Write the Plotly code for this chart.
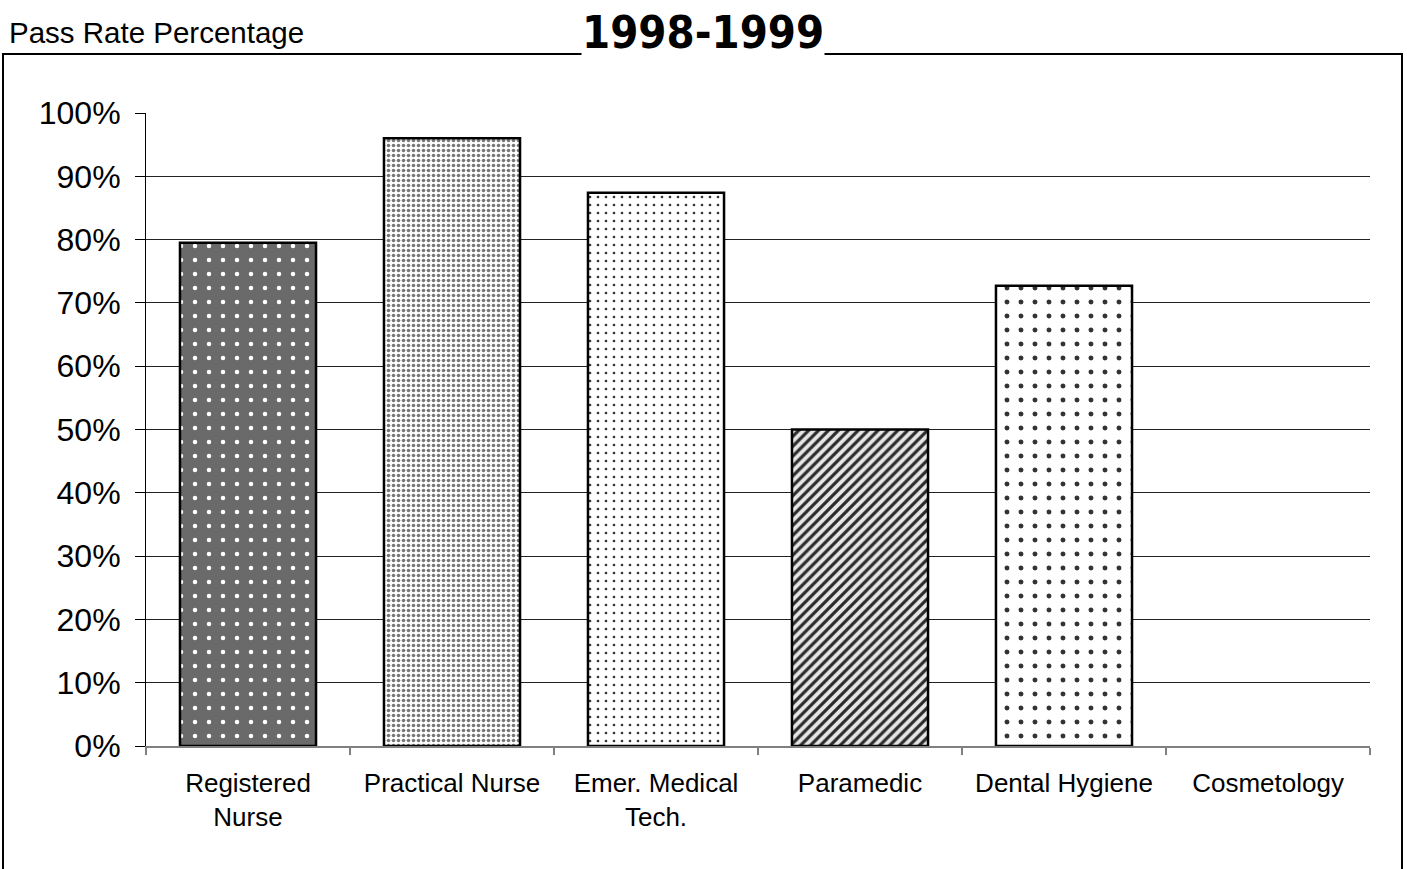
import plotly.graph_objects as go

# Licensure exam pass rates by program, 1998-1999
programs = ["Registered<br>Nurse", "Practical Nurse", "Emer. Medical<br>Tech.",
            "Paramedic", "Dental Hygiene", "Cosmetology"]
pass_rates = [79.5, 96.0, 87.4, 50.0, 72.7, None]

y_ticks = list(range(0, 101, 10))
y_tick_text = [f"{v}%" for v in y_ticks]
grid_vals = list(range(10, 100, 10))

# fill patterns per program
pat_shapes = [".", ".", ".", "/", ".", ""]
pat_bg = ["#6a6a6a", "#ffffff", "#ffffff", "#e6e6e6", "#ffffff", "#ffffff"]
pat_fg = ["#ffffff", "#777777", "#333333", "#2a2a2a", "#333333", "#000000"]
pat_size = [14, 5, 8, 7, 14, 8]
pat_solid = [0.08, 0.4, 0.09, 0.45, 0.1, 0.3]

W, H = 1407, 869
L, R, T, B = 146, 37, 113, 123
pw, ph = W - L - R, H - T - B


def px_x(x):
    return (x - L) / pw


def px_y(y):
    return (H - B - y) / ph


fig = go.Figure()
for i, name in enumerate(programs):
    # the empty Cosmetology column carries the gridline axis
    fig.add_trace(go.Bar(
        x=[name],
        y=[pass_rates[i]],
        yaxis="y2" if pass_rates[i] is None else "y",
        marker=dict(
            color=pat_bg[i],
            line=dict(color="#000000", width=2.5),
            pattern=dict(shape=pat_shapes[i], fgcolor=pat_fg[i], fgopacity=1,
                         size=pat_size[i], solidity=pat_solid[i],
                         fillmode="overlay"),
        ),
        hoverinfo="x+y",
    ))

fig.update_layout(
    width=W, height=H,
    margin=dict(l=L, r=R, t=T, b=B),
    paper_bgcolor="#ffffff",
    plot_bgcolor="#ffffff",
    showlegend=False,
    barmode="overlay",
    bargap=0.333,
    font=dict(family="Liberation Sans, Arial, sans-serif", color="#000000"),
    xaxis=dict(
        type="category",
        categoryorder="array", categoryarray=programs,
        tickson="boundaries",
        ticks="outside", ticklen=7, tickwidth=1.5, tickcolor="#808080",
        showline=True, linecolor="#808080", linewidth=1.5,
        showgrid=False, zeroline=False,
        tickfont=dict(size=26, color="#000000"),
        ticklabelstandoff=13,
    ),
    yaxis=dict(
        range=[0, 100],
        tickmode="array", tickvals=y_ticks, ticktext=y_tick_text,
        ticks="outside", ticklen=10, tickwidth=1, tickcolor="#000000",
        showline=True, linecolor="#000000", linewidth=1,
        showgrid=False, zeroline=False,
        tickfont=dict(size=32, color="#000000"),
        ticklabelstandoff=8,
    ),
    yaxis2=dict(
        overlaying="y", side="left", range=[0, 100],
        tickmode="array", tickvals=grid_vals,
        showgrid=True, gridcolor="#222222", gridwidth=1,
        showticklabels=False, ticks="", showline=False, zeroline=False,
    ),
)

# outer chart frame
fig.add_shape(type="rect", xref="paper", yref="paper",
              x0=px_x(3), x1=px_x(1402), y0=px_y(900), y1=px_y(54),
              line=dict(color="#000000", width=2), fillcolor="rgba(0,0,0,0)",
              layer="below")

fig.add_annotation(
    text="<b>1998-1999</b>", xref="paper", yref="paper",
    x=px_x(703), y=px_y(33), xanchor="center", yanchor="middle",
    showarrow=False, bgcolor="#ffffff", borderpad=0,
    font=dict(family="Liberation Sans Narrow, Arial Narrow, DejaVu Sans Condensed, sans-serif",
              size=45, color="#000000"),
)
fig.add_annotation(
    text="Pass Rate Percentage", xref="paper", yref="paper",
    x=px_x(7), y=px_y(33), xanchor="left", yanchor="middle",
    showarrow=False,
    font=dict(size=29.5, color="#000000"),
)

fig.write_html("out.html")
